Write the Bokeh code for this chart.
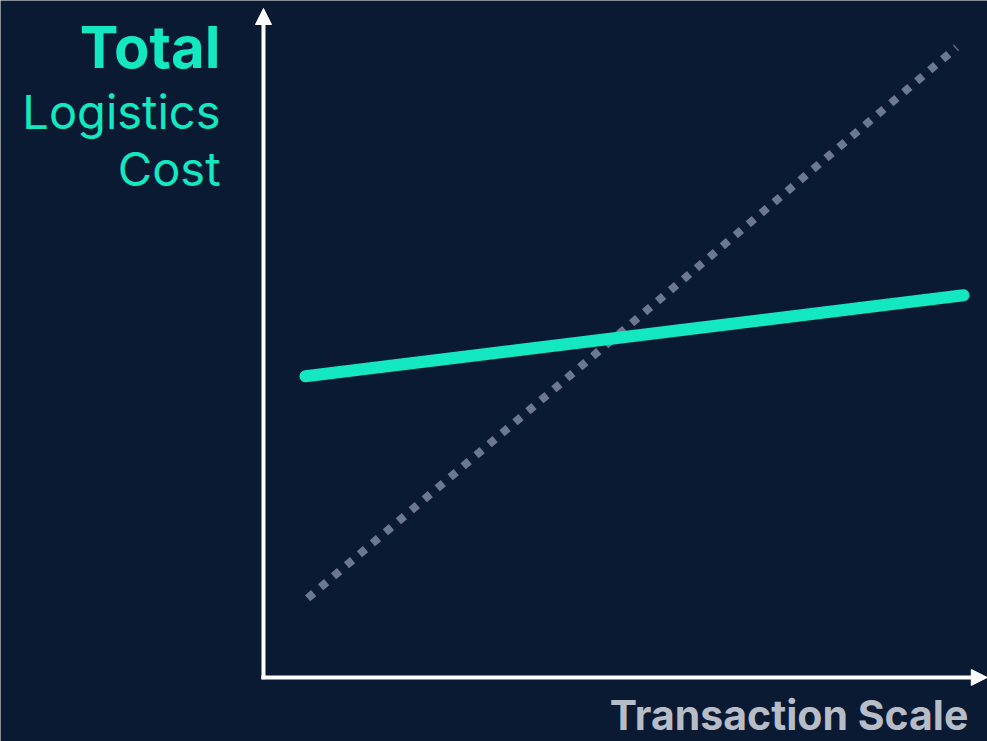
from bokeh.plotting import figure
from bokeh.models import Range1d, Arrow, NormalHead, Label
from bokeh.embed import file_html
from bokeh.resources import INLINE

# Data (abstract units: x = transaction scale, y = total logistics cost)
solid_x = [0.6, 10.0]
solid_y = [5.02, 6.37]
dotted_x = [0.63, 9.9]
dotted_y = [1.32, 10.5]

y_title_lines = ["Total", "Logistics", "Cost"]
x_title = "Transaction Scale"

BG = "#0b1a33"
TEAL = "#13e8c1"
GRAY = "#6b7890"
LABEL_GRAY = "#b7bdc7"

p = figure(width=987, height=741, output_backend="svg", toolbar_location=None,
           x_range=Range1d(-3.757, 10.343), y_range=Range1d(-1.067, 11.283),
           min_border=0, background_fill_color=BG, border_fill_color=BG,
           outline_line_color=None)
p.axis.visible = False
p.grid.visible = False

# axes with arrows
p.add_layout(Arrow(x_start=-0.03, y_start=0.0, x_end=10.34, y_end=0.0,
                   line_color="white", line_width=4,
                   end=NormalHead(size=16, fill_color="white", line_color="white", line_width=1)))
p.add_layout(Arrow(x_start=0.0, y_start=-0.03, x_end=0.0, y_end=11.15,
                   line_color="white", line_width=4,
                   end=NormalHead(size=16, fill_color="white", line_color="white", line_width=1)))

p.line(dotted_x, dotted_y, line_color=GRAY, line_width=8, line_dash="8 9", line_cap="butt")
p.line(solid_x, solid_y, line_color=TEAL, line_width=12, line_cap="round")

FONT = "Inter"
p.add_layout(Label(x=-0.614, y=10.5, text=y_title_lines[0], text_align="right",
                   text_baseline="alphabetic", text_color=TEAL, text_font=FONT,
                   text_font_size="58px", text_font_style="bold"))
p.add_layout(Label(x=-0.614, y=9.43, text=y_title_lines[1], text_align="right",
                   text_baseline="alphabetic", text_color=TEAL, text_font=FONT,
                   text_font_size="47px"))
p.add_layout(Label(x=-0.614, y=8.49, text=y_title_lines[2], text_align="right",
                   text_baseline="alphabetic", text_color=TEAL, text_font=FONT,
                   text_font_size="47px"))
p.add_layout(Label(x=10.07, y=-0.62, text=x_title, text_align="right",
                   text_baseline="alphabetic", text_color=LABEL_GRAY, text_font=FONT,
                   text_font_size="41px", text_font_style="bold"))

open("out.html", "w").write(file_html(p, INLINE))
